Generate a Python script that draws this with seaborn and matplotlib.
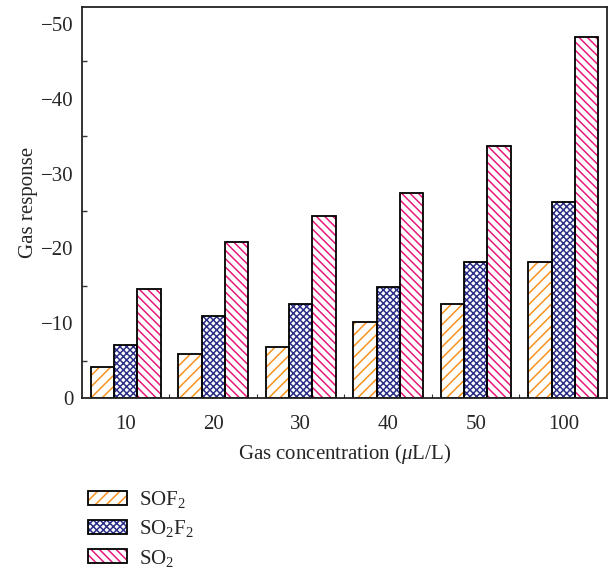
import numpy as np
import pandas as pd
import matplotlib
matplotlib.use("Agg")
import matplotlib.pyplot as plt
from matplotlib.patches import Patch, Rectangle
from matplotlib.legend_handler import HandlerTuple
from matplotlib.ticker import MultipleLocator, FixedLocator
import seaborn as sns

# Gas concentrations (uL/L) and responses for each gas
concentrations = ["10", "20", "30", "40", "50", "100"]
gases = ["SOF2", "SO2F2", "SO2"]
sof2 = [-4.1, -5.9, -6.8, -10.2, -12.6, -18.2]
so2f2 = [-7.1, -11.0, -12.6, -14.8, -18.2, -26.2]
so2 = [-14.5, -20.9, -24.3, -27.4, -33.7, -48.2]
legend_labels = [r"SOF$_2$", r"SO$_2$F$_2$", r"SO$_2$"]

df = pd.DataFrame({
    "conc": concentrations * 3,
    "gas": [g for g in gases for _ in concentrations],
    "resp": sof2 + so2f2 + so2,
})

sns.set_theme(style="white")
plt.rcParams["font.family"] = ["Liberation Serif", "DejaVu Serif"]
plt.rcParams["mathtext.fontset"] = "custom"
plt.rcParams["mathtext.rm"] = "Liberation Serif"
plt.rcParams["mathtext.it"] = "Liberation Serif:italic"
plt.rcParams["hatch.linewidth"] = 1.1

FS = 15
hatch_colors = {"SOF2": "#F7931E", "SO2F2": "#2B2F87", "SO2": "#E8197A"}
hatches = {"SOF2": "///", "SO2F2": "xxxxx", "SO2": "\\\\\\\\"}

fig = plt.figure(figsize=(6.09, 5.68), dpi=100)
ax = fig.add_axes([0.1346, 0.2993, 0.8621, 0.6877])

sns.barplot(data=df, x="conc", y="resp", hue="gas", order=concentrations,
            hue_order=gases, palette=hatch_colors, width=0.8, ax=ax,
            legend=False, errorbar=None)

# Hatched fill in gas colour, with a black outline on top
for gas, container in zip(gases, ax.containers):
    for bar in container:
        bar.set_facecolor("white")
        bar.set_edgecolor(hatch_colors[gas])
        bar.set_hatch(hatches[gas])
        bar.set_linewidth(0)
        ax.add_patch(Rectangle(bar.get_xy(), bar.get_width(), bar.get_height(),
                               fill=False, edgecolor="black", linewidth=1.3,
                               zorder=bar.get_zorder() + 0.1))

ax.set_xlim(-0.5, len(concentrations) - 0.5)
ax.set_ylim(0, -52.2)
ax.yaxis.set_major_locator(MultipleLocator(10))
ax.yaxis.set_minor_locator(MultipleLocator(5))
ax.xaxis.set_minor_locator(FixedLocator(np.arange(0.5, len(concentrations) - 1, 1.0)))
ax.tick_params(axis="both", which="both", direction="in", top=False, right=False,
               color="#333333")
ax.tick_params(axis="y", which="major", length=6, width=1.0, labelsize=FS, pad=6)
ax.tick_params(axis="y", which="minor", length=3.5, width=1.0, left=True)
ax.tick_params(axis="x", which="major", length=3, width=0.8, labelsize=FS, pad=12,
               bottom=True)
ax.tick_params(axis="x", which="minor", length=3, width=0.8, bottom=True)

for side in ["left", "right", "top", "bottom"]:
    ax.spines[side].set_visible(True)
    ax.spines[side].set_color("#222222")
    ax.spines[side].set_linewidth(1.3)

ax.set_xlabel(r"Gas concentration ($\mu$L/L)", fontsize=FS, labelpad=6)
ax.set_ylabel("Gas response", fontsize=FS, labelpad=2)

handles = []
for gas in gases:
    fill = Patch(facecolor="white", edgecolor=hatch_colors[gas], hatch=hatches[gas],
                 linewidth=0)
    outline = Patch(fill=False, edgecolor="black", linewidth=1.3)
    handles.append((fill, outline))

fig.legend(handles, legend_labels, handler_map={tuple: HandlerTuple(ndivide=1)},
           loc="upper left", bbox_to_anchor=(0.145, 1 - 489 / 568), frameon=False,
           fontsize=FS, handlelength=1.85, handleheight=0.65, handletextpad=0.6,
           labelspacing=0.4, borderpad=0, borderaxespad=0)

fig.savefig("out.png", dpi=100)
